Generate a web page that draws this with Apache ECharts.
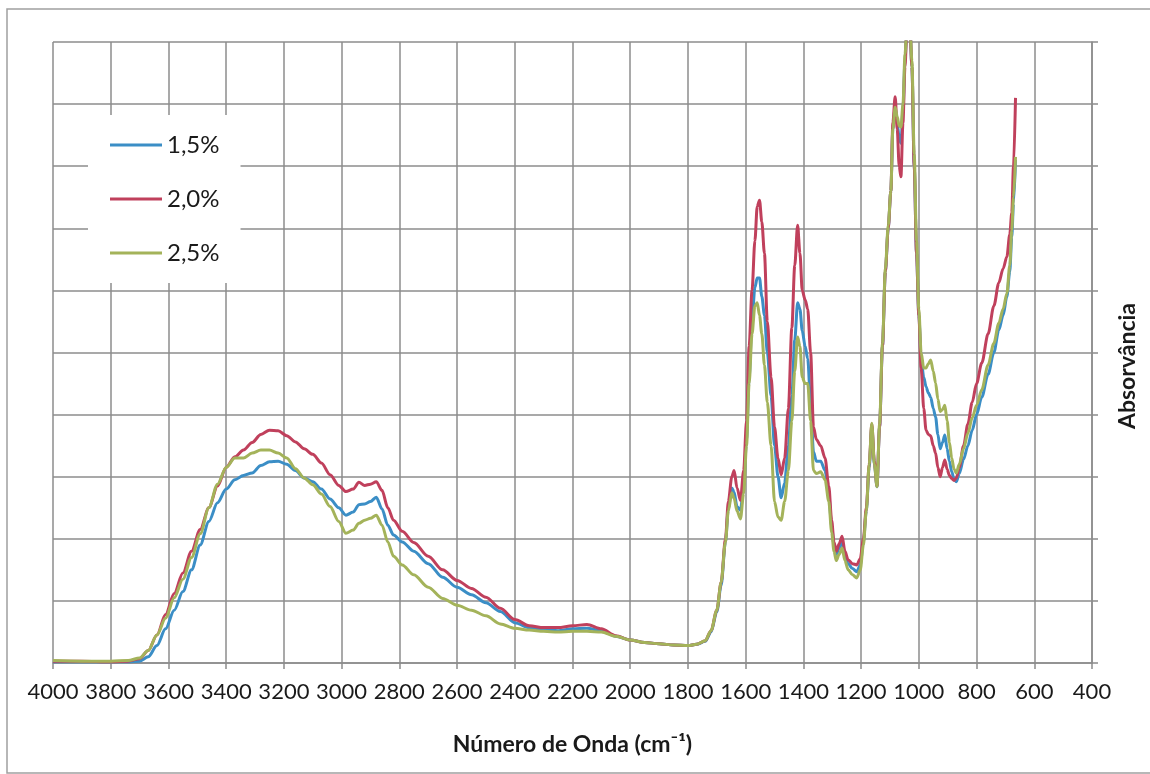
<!DOCTYPE html>
<html>
<head>
<meta charset="utf-8">
<title>Absorvância FTIR</title>
<script src="https://cdn.jsdelivr.net/npm/echarts@6/dist/echarts.min.js"></script>
<style>
  html, body { margin: 0; padding: 0; background: #fff; }
  #main { width: 1150px; height: 774px; }
</style>
</head>
<body>
<div id="main"></div>
<script>
// número de onda (cm-1), eixo x comum às três curvas
var waveNumbers = [
  4000, 3900, 3800, 3740, 3700, 3670, 3640, 3610, 3580, 3550,
  3520, 3490, 3460, 3430, 3400, 3370, 3340, 3310, 3280, 3250,
  3220, 3190, 3160, 3130, 3100, 3070, 3040, 3010, 2985, 2960,
  2940, 2920, 2900, 2880, 2860, 2840, 2820, 2790, 2750, 2700,
  2650, 2600, 2550, 2500, 2450, 2400, 2350, 2300, 2250, 2200,
  2150, 2100, 2050, 2000, 1950, 1900, 1850, 1800, 1770, 1740,
  1720, 1700, 1685, 1670, 1660, 1648, 1640, 1630, 1618, 1607,
  1597, 1588, 1578, 1568, 1560, 1552, 1544, 1535, 1525, 1512,
  1500, 1488, 1477, 1465, 1452, 1440, 1430, 1420, 1412, 1404,
  1394, 1385, 1375, 1365, 1355, 1340, 1325, 1312, 1302, 1294,
  1286, 1276, 1266, 1256, 1245, 1230, 1215, 1203, 1192, 1182,
  1172, 1163, 1154, 1145, 1136, 1126, 1116, 1106, 1097, 1090,
  1082, 1075, 1068, 1062, 1055, 1048, 1040, 1032, 1024, 1016,
  1008, 1000, 992, 983, 975, 967, 959, 950, 942, 934,
  926, 918, 910, 902, 894, 886, 878, 870, 860, 845,
  830, 815, 800, 782, 760, 740, 723, 708, 695, 685,
  678, 672, 665
];

// absorvância (unidades arbitrárias, 0-10 na escala do gráfico)
var abs15 = [
  0.02, 0.02, 0.02, 0.02, 0.03, 0.1, 0.28, 0.55, 0.85, 1.15,
  1.5, 1.9, 2.28, 2.58, 2.8, 2.95, 3.02, 3.06, 3.18, 3.24,
  3.25, 3.2, 3.1, 2.98, 2.92, 2.8, 2.64, 2.5, 2.38, 2.43,
  2.55, 2.56, 2.6, 2.67, 2.48, 2.22, 2.06, 1.95, 1.8, 1.6,
  1.38, 1.22, 1.1, 0.97, 0.83, 0.65, 0.57, 0.54, 0.52, 0.55,
  0.56, 0.52, 0.43, 0.37, 0.33, 0.31, 0.29, 0.28, 0.3, 0.35,
  0.5, 0.82, 1.25, 1.95, 2.5, 2.82, 2.75, 2.52, 2.46, 2.84,
  3.6, 4.6, 5.5, 6.05, 6.2, 6.2, 5.9, 5.6, 5.0, 4.3,
  3.5, 3.0, 2.66, 2.9, 3.5, 4.3, 5.2, 5.8, 5.7, 5.35,
  5.1, 4.9, 4.2, 3.4, 3.25, 3.25, 3.1, 2.7, 2.2, 1.9,
  1.75, 1.85, 1.95, 1.75, 1.6, 1.52, 1.47, 1.58, 1.95, 2.45,
  3.15, 3.8, 3.2, 2.84, 3.8, 5.1, 6.3, 7.0, 7.6, 8.6,
  8.95, 8.7, 8.45, 8.37, 8.9, 9.7, 10.4, 10.4, 9.6, 8.0,
  6.6, 5.6, 4.9, 4.6, 4.45, 4.35, 4.28, 4.1, 3.96, 3.68,
  3.45, 3.55, 3.67, 3.45, 3.25, 3.08, 2.96, 2.92, 3.05, 3.28,
  3.5, 3.75, 4.0, 4.28, 4.65, 5.0, 5.36, 5.6, 5.9, 6.3,
  6.86, 7.4, 8.1
];

var abs20 = [
  0.03, 0.03, 0.02, 0.03, 0.07, 0.2, 0.45, 0.78, 1.12, 1.45,
  1.8, 2.15, 2.5, 2.85, 3.15, 3.32, 3.43, 3.55, 3.68, 3.75,
  3.74, 3.66, 3.56, 3.45, 3.36, 3.22, 3.03, 2.86, 2.76, 2.8,
  2.91, 2.86, 2.88, 2.92, 2.78, 2.5, 2.3, 2.12, 1.94, 1.72,
  1.5, 1.33, 1.2, 1.06, 0.88, 0.7, 0.6, 0.57, 0.57, 0.6,
  0.62, 0.55, 0.44, 0.37, 0.33, 0.31, 0.29, 0.28, 0.3, 0.36,
  0.52, 0.85, 1.3, 2.0, 2.6, 3.0, 3.1, 2.82, 2.62, 3.1,
  3.9, 5.1, 6.0, 6.8, 7.35, 7.45, 7.1, 6.6, 5.5, 4.6,
  3.8, 3.3, 3.03, 3.3, 4.1, 5.4, 6.4, 7.05, 6.6, 6.0,
  5.85, 5.7, 5.0, 3.8, 3.6, 3.5, 3.3, 2.85, 2.3, 1.95,
  1.8, 1.92, 2.04, 1.8, 1.66, 1.6, 1.58, 1.68, 2.0, 2.5,
  3.2, 3.85, 3.25, 2.85, 3.8, 5.1, 6.3, 7.0, 7.6, 8.7,
  9.12, 8.6, 8.0, 7.83, 8.7, 9.6, 10.4, 10.4, 9.6, 8.0,
  6.6, 5.6, 4.75, 4.1, 3.75, 3.68, 3.66, 3.5, 3.38, 3.15,
  3.0, 3.15, 3.27, 3.12, 3.02, 2.97, 2.94, 2.98, 3.15, 3.5,
  3.85, 4.2, 4.5, 4.83, 5.3, 5.75, 6.12, 6.35, 6.54, 6.9,
  7.25, 8.0, 9.1
];

var abs25 = [
  0.04, 0.03, 0.03, 0.04, 0.08, 0.2, 0.45, 0.72, 1.05, 1.35,
  1.7, 2.08, 2.5, 2.88, 3.15, 3.3, 3.3, 3.38, 3.43, 3.43,
  3.38, 3.3, 3.13, 2.98, 2.87, 2.72, 2.52, 2.28, 2.09, 2.14,
  2.25, 2.3, 2.33, 2.38, 2.22, 1.95, 1.72, 1.58, 1.42, 1.22,
  1.04, 0.93, 0.85, 0.76, 0.63, 0.56, 0.53, 0.51, 0.5, 0.51,
  0.51, 0.5, 0.43, 0.37, 0.33, 0.31, 0.29, 0.28, 0.3, 0.36,
  0.52, 0.85, 1.3, 1.95, 2.45, 2.74, 2.65, 2.45, 2.32, 2.73,
  3.5, 4.5, 5.3, 5.75, 5.8, 5.6, 5.3, 4.8, 4.2, 3.5,
  2.6, 2.35, 2.3, 2.6, 3.1, 3.9, 4.7, 5.25, 5.1, 4.6,
  4.5, 4.5, 3.9, 3.1, 3.05, 3.08, 2.95, 2.6, 2.1, 1.8,
  1.65, 1.75, 1.85, 1.65, 1.5, 1.42, 1.37, 1.5, 1.9, 2.45,
  3.2, 3.86, 3.2, 2.84, 3.85, 5.15, 6.35, 7.05, 7.6, 8.6,
  8.95, 8.8, 8.65, 8.63, 9.0, 9.8, 10.4, 10.4, 9.7, 8.2,
  6.8, 5.7, 5.0, 4.75, 4.75, 4.82, 4.88, 4.7, 4.51, 4.25,
  4.05, 4.08, 4.15, 3.9, 3.55, 3.3, 3.12, 3.06, 3.2, 3.45,
  3.7, 3.95, 4.15, 4.4, 4.8, 5.15, 5.47, 5.7, 5.95, 6.4,
  6.97, 7.5, 8.15
];

var seriesNames = ['1,5%', '2,0%', '2,5%'];
var seriesColors = ['#3b8ec6', '#c0405c', '#a4b35a'];

function pairs(ys) {
  return waveNumbers.map(function (x, i) { return [x, ys[i]]; });
}

var font = 'Lato, "Noto Sans", sans-serif';
var gridColor = '#8c8c8c';

var myChart = echarts.init(document.getElementById('main'));
myChart.setOption({
  animation: false,
  backgroundColor: '#fff',
  graphic: [{
    type: 'rect',
    z: -1,
    shape: { x: 7, y: 9, width: 1160, height: 764 },
    style: { fill: 'none', stroke: '#a0a0a0', lineWidth: 1.5 }
  }, {
    // título do eixo y, à direita como no original
    type: 'text',
    x: 1128,
    y: 366,
    rotation: Math.PI / 2,
    style: {
      text: 'Absorvância',
      align: 'center',
      verticalAlign: 'middle',
      font: 'bold 23px ' + font,
      fill: '#1a1a1a'
    }
  }],
  grid: { left: 53, right: 58, top: 42, bottom: 111 },
  legend: {
    left: 88,
    top: 115,
    orient: 'vertical',
    icon: 'rect',
    itemWidth: 52,
    itemHeight: 3,
    itemGap: 30,
    padding: [18, 21, 18, 22],
    backgroundColor: '#fff',
    textStyle: { fontFamily: font, fontSize: 24, color: '#1a1a1a' },
    data: seriesNames
  },
  xAxis: {
    type: 'value',
    inverse: true,
    min: 400,
    max: 4000,
    interval: 200,
    name: 'Número de Onda (cm⁻¹)',
    nameLocation: 'middle',
    nameGap: 70,
    nameTextStyle: { fontFamily: font, fontSize: 23, fontWeight: 'bold', color: '#1a1a1a' },
    axisLine: { show: true, lineStyle: { color: gridColor, width: 1.5 } },
    axisTick: { show: true, length: 6, lineStyle: { color: gridColor, width: 1.5 } },
    axisLabel: {
      fontFamily: font, fontSize: 22, color: '#1a1a1a', margin: 18,
      formatter: function (v) { return String(v); }
    },
    splitLine: { show: true, lineStyle: { color: gridColor, width: 1.5 } }
  },
  yAxis: {
    type: 'value',
    position: 'right',
    min: 0,
    max: 10,
    interval: 1,
    axisLine: { show: true, lineStyle: { color: gridColor, width: 1.5 } },
    axisTick: { show: true, length: 6, lineStyle: { color: gridColor, width: 1.5 } },
    axisLabel: { show: false },
    splitLine: { show: true, lineStyle: { color: gridColor, width: 1.5 } }
  },
  series: [abs15, abs20, abs25].map(function (ys, i) {
    return {
      name: seriesNames[i],
      type: 'line',
      data: pairs(ys),
      showSymbol: false,
      smooth: 0.3,
      smoothMonotone: 'x',
      clip: true,
      color: seriesColors[i],
      lineStyle: { width: 3, color: seriesColors[i] }
    };
  })
});
</script>
</body>
</html>
